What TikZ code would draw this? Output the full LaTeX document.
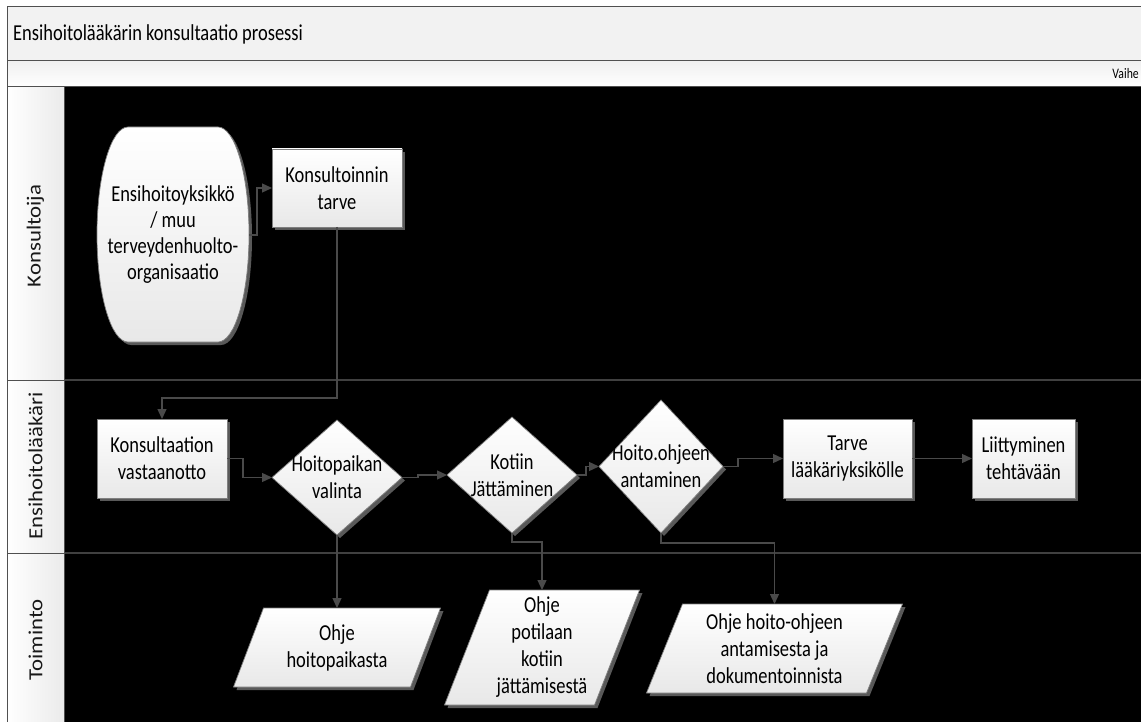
\documentclass[tikz,border=0pt]{standalone}
\usepackage{fontspec}
\setmainfont{Carlito}[FakeStretch=0.81]
\newfontfamily\lanefont{Carlito}[FakeStretch=1.14]
\usetikzlibrary{shapes.geometric,arrows.meta,shadows}

\definecolor{frameline}{HTML}{505050}
\definecolor{connline}{HTML}{4A4A4A}
\definecolor{shapeline}{HTML}{7F7F7F}
\definecolor{shadowgray}{HTML}{595959}
\definecolor{laneline}{HTML}{404040}

\newcommand\boxfont{\fontsize{22.8}{27}\selectfont}
% parallelogram: centre x, centre y, half width, half height, half slant
\newcommand\drawpara[5]{%
  \path[shapebase] (#1-#3+#5,#2-#4) -- (#1+#3+#5,#2-#4)
     -- (#1+#3-#5,#2+#4) -- (#1-#3-#5,#2+#4) -- cycle;}

\begin{document}
\begin{tikzpicture}[x=1pt,y=-1pt,
  shapebase/.style={draw=shapeline, line width=0.7pt, top color=white, bottom color=black!9,
    drop shadow={shadow xshift=3pt, shadow yshift=-3pt, fill=shadowgray, opacity=1}},
  stepbox/.style={shapebase, rectangle, inner sep=0pt, outer sep=0pt, align=center, font=\boxfont},
  decision/.style={shapebase, diamond, inner sep=0pt, outer sep=0pt},
  txt/.style={align=center, font=\boxfont, inner sep=0pt, outer sep=0pt},
  flow/.style={draw=connline, line width=1.3pt, -{Triangle[length=10pt,width=9pt]}},
  barstyle/.style={draw=frameline, line width=1pt},
  lanelabel/.style={rotate=90, font=\lanefont\fontsize{20}{24}\selectfont, inner sep=0pt, text=black!90}
]
\clip (0,0) rectangle (1141,722);
\fill[white] (0,0) rectangle (1141,722);

% header bars
\path[barstyle, fill=black!5] (7,7) rectangle (1160,61);
\path[barstyle, top color=black!6, bottom color=white] (7,61) rectangle (1160,87);
\node[anchor=west, font=\boxfont, inner sep=0pt] (title) at (13,34) {Ensihoitolääkärin konsultaatio prosessi};
\node[anchor=east, font=\fontsize{14.5}{17}\selectfont, inner sep=0pt] (phase) at (1139,74) {Vaihe};

% lane area
\fill[black] (64,87) rectangle (1160,730);
\draw[laneline, line width=1.2pt] (64,380) -- (1160,380);
\draw[laneline, line width=1.2pt] (64,553) -- (1160,553);

% lane header column
\path[barstyle, left color=white, right color=black!8] (7,87) rectangle (64,380);
\path[barstyle, left color=white, right color=black!8] (7,380) rectangle (64,553);
\path[barstyle, left color=white, right color=black!8] (7,553) rectangle (64,730);
\node[lanelabel] (lane1) at (35.5,236) {Konsultoija};
\node[lanelabel] (lane2) at (35.5,466) {Ensihoitolääkäri};
\node[lanelabel] (lane3) at (35.5,640) {Toiminto};

% start terminator
\path[shapebase] (128,127) -- (218,127)
  .. controls (235.1,127) and (249,175.1) .. (249,234.5)
  .. controls (249,293.9) and (235.1,342) .. (218,342)
  -- (128,342)
  .. controls (110.9,342) and (97,293.9) .. (97,234.5)
  .. controls (97,175.1) and (110.9,127) .. (128,127) -- cycle;
\node[txt, font=\fontsize{22.8}{26}\selectfont, minimum width=152pt, minimum height=215pt] (term) at (173,235)
  {Ensihoitoyksikkö\\/ muu\\terveydenhuolto-\\organisaatio};

% process steps
\node[stepbox, minimum width=130pt, minimum height=78pt] (kt) at (337,188) {Konsultoinnin\\tarve};
\node[stepbox, minimum width=130pt, minimum height=79pt] (kv) at (162,458.5) {Konsultaation\\vastaanotto};
\node[stepbox, minimum width=129pt, minimum height=79pt] (tl) at (847.5,458.5) {Tarve\\lääkäriyksikölle};
\node[stepbox, minimum width=103pt, minimum height=79pt] (lt) at (1023.5,458.5) {Liittyminen\\tehtävään};

% decisions
\node[decision, minimum width=130pt, minimum height=115pt] (d1) at (337,477.5) {};
\node[txt] at (d1) {Hoitopaikan\\valinta};
\node[decision, minimum width=130pt, minimum height=116pt] (d2) at (512,475) {};
\node[txt] at (d2) {Kotiin\\Jättäminen};
\node[decision, minimum width=124pt, minimum height=133pt] (d3) at (661,466.5) {};
\node[txt] at (d3) {Hoito.ohjeen\\antaminen};

% instruction documents
\drawpara{337}{647.5}{88.5}{39.5}{15}
\node[txt, minimum height=79pt] (p1) at (337,647.5) {Ohje\\hoitopaikasta};
\drawpara{542}{647.5}{75}{57.5}{22.5}
\node[txt, minimum height=115pt] (p2) at (542,647.5) {Ohje\\potilaan\\kotiin\\jättämisestä};
\drawpara{774.5}{648.5}{110}{44.5}{18}
\node[txt, minimum height=89pt] (p3) at (774.5,648.5) {Ohje hoito-ohjeen\\antamisesta ja\\dokumentoinnista};

% connectors
\draw[flow] (term.east) -- ++(8,0) |- (kt.west);
\draw[flow] (kt.south) -- ++(0,171) -| (kv.north);
\draw[flow] (kv.east) -- ++(16,0) |- (d1.west);
\draw[flow] (d1.east) -- ++(16,0) |- (d2.west);
\draw[flow] (d2.east) -- ++(9,0) |- (d3.west);
\draw[flow] (d3.east) -- ++(15,0) |- (tl.west);
\draw[flow] (tl.east) -- (lt.west);
\draw[flow] (d1.south) -- (p1.north);
\draw[flow] (d2.south) -- ++(0,9) -| (p2.north);
\draw[flow] (d3.south) -- ++(0,10) -| (p3.north);
\end{tikzpicture}
\end{document}
